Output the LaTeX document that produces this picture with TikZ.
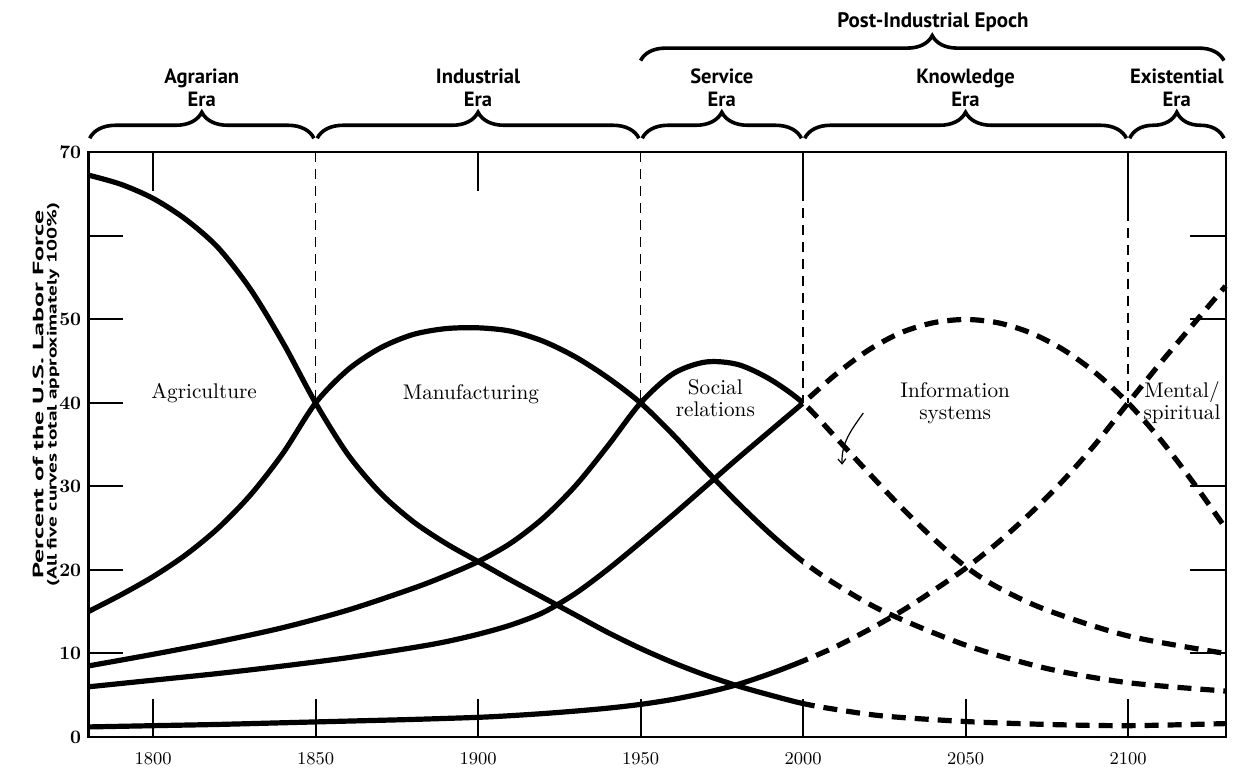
\documentclass[tikz,border=0pt]{standalone}
\usepackage{fontspec}
\usepackage{graphicx}
\newfontfamily\erafont{PT Sans}
\usetikzlibrary{decorations.pathreplacing,arrows.meta}

% one trend curve: solid up to 2000, dashed after
\newcommand\trendcurve[1]{%
	\begin{scope}
		\clip (1775,-3) rectangle (2000,72);
		\draw[curve] plot[smooth] coordinates {#1};
	\end{scope}
	\begin{scope}
		\clip (2000,-3) rectangle (2135,72);
		\draw[future] plot[smooth] coordinates {#1};
	\end{scope}}

\begin{document}
\begin{tikzpicture}[x=1.625pt, y=4.175pt,
	frame/.style={line width=1pt},
	curve/.style={line width=2.6pt},
	future/.style={line width=2.6pt, dash pattern=on 7pt off 4.5pt},
	eraline/.style={line width=0.9pt, dash pattern=on 5pt off 3.5pt},
	erabrace/.style={decorate, decoration={brace, amplitude=13pt}, line width=1.8pt},
	eralabel/.style={font=\erafont\bfseries\fontsize{10.3}{11.5}\selectfont, align=center},
	curvelabel/.style={font=\fontsize{10.6}{11}\selectfont, align=center},
	yearlabel/.style={font=\fontsize{9}{9}\selectfont},
	pctlabel/.style={font=\bfseries\fontsize{9.5}{10}\selectfont, anchor=east, inner sep=1pt}]
	\useasboundingbox (1752.92,-5.15) rectangle (2135.08,88.26);
	
	% frame and ticks
	\draw[frame] (1780,0) rectangle (2130,70);
	\draw[line width=1.5pt] (1780,0) -- (1780,70);
	\foreach \p in {10,20,...,60}
		\draw[frame] (1780,\p) -- (1790.8,\p);
	\foreach \p in {10,20,30,50,60}
		\draw[frame] (2130,\p) -- (2119.2,\p);
	\foreach \yr in {1800,1850,...,2100}
		\draw[frame] (\yr,0) -- (\yr,4.5);
	\foreach \yr in {1800,1900}
		\draw[frame] (\yr,70) -- (\yr,65.4);
	
	% era boundaries
	\draw[eraline] (1850,70) -- (1850,40);
	\draw[eraline] (1950,70) -- (1950,40);
	\draw[frame] (2000,70) -- (2000,65.4);
	\draw[eraline] (2000,65.4) -- (2000,40);
	\draw[frame] (2100,70) -- (2100,63);
	\draw[eraline] (2100,63) -- (2100,40);
	
	% labels of the axes
	\foreach \yr in {1800,1850,...,2100}
		\node[yearlabel] (yr\yr) at (\yr,-2.6) {\yr};
	\foreach \p in {0,10,20,30,40,50,70}
		\node[pctlabel] (pc\p) at (1778.6,\p) {\p};
	\node[rotate=90, inner sep=0pt, font=\erafont\bfseries\fontsize{7.5}{9}\selectfont] (ytitle) at (1764.6,41)
		{\scalebox{1.87}[1]{Percent of the U.S. Labor Force}};
	\node[rotate=90, inner sep=0pt, font=\erafont\bfseries\fontsize{6.8}{8}\selectfont] (ynote) at (1769.3,41)
		{\scalebox{1.56}[1]{(All five curves total approximately 100\%)}};
	
	% eras
	\foreach \a/\b/\n/\t in {1780/1850/agrarian/Agrarian\\Era, 1850/1950/industrial/Industrial\\Era,
		1950/2000/service/Service\\Era, 2000/2100/knowledge/Knowledge\\Era, 2100/2130/existential/Existential\\Era}{
		\draw[erabrace] ({\a+0.5},71.7) -- ({\b-0.5},71.7);
		\node[eralabel] (\n) at ({(\a+\b)/2},77.7) {\t};
	}
	\draw[erabrace, decoration={amplitude=12.5pt}] (1950,81) -- (2129.5,81);
	\node[eralabel, font=\erafont\bfseries\fontsize{10.5}{11.5}\selectfont] (postind) at (2040,85.6) {Post-Industrial Epoch};
	
	% the five curves
	\trendcurve{(1780,67.3) (1790,66.2) (1800,64.5) (1810,62) (1820,58.6) (1830,53.6) (1840,47.2)
		(1850,40) (1860,33.8) (1870,29.2) (1880,25.8) (1890,23.2) (1900,21) (1910,18.8) (1920,16.7)
		(1930,14.6) (1940,12.5) (1950,10.6) (1960,8.9) (1970,7.4) (1980,6.1) (1990,5) (2000,4)
		(2010,3.3) (2025,2.5) (2050,1.85) (2075,1.5) (2100,1.35) (2130,1.6)}
	\trendcurve{(1780,15) (1790,17) (1800,19.2) (1810,21.8) (1820,25) (1830,29) (1840,34)
		(1850,40) (1860,44) (1870,46.6) (1880,48.2) (1890,48.9) (1900,49) (1910,48.6) (1920,47.4)
		(1930,45.5) (1940,43) (1950,40) (1960,36.2) (1970,32) (1980,28) (1990,24.3) (2000,21)
		(2010,18.3) (2025,15) (2050,11) (2075,8.2) (2100,6.5) (2130,5.5)}
	\trendcurve{(1780,8.5) (1800,9.9) (1820,11.4) (1840,13.1) (1860,15.2) (1880,17.8) (1890,19.3)
		(1900,21) (1910,23.2) (1920,26.2) (1930,30.1) (1940,34.9) (1950,40) (1960,43.5) (1970,44.9)
		(1980,44.6) (1990,42.8) (2000,40) (2010,35.9) (2020,31.7) (2030,27.6) (2040,23.8) (2050,20.4)
		(2060,17.9) (2075,15.2) (2100,12.1) (2130,10)}
	\trendcurve{(1780,6) (1800,6.8) (1820,7.6) (1840,8.5) (1860,9.5) (1880,10.7) (1890,11.4)
		(1900,12.3) (1910,13.4) (1920,14.9) (1930,17.2) (1940,20.1) (1950,23.3) (1960,26.6) (1970,30)
		(1980,33.4) (1990,36.7) (2000,40) (2010,43.4) (2020,46.3) (2030,48.4) (2040,49.6) (2050,50)
		(2060,49.6) (2070,48.4) (2080,46.4) (2090,43.6) (2100,40) (2110,35.6) (2120,30.5) (2130,25)}
	\trendcurve{(1780,1.2) (1800,1.35) (1820,1.5) (1840,1.7) (1860,1.9) (1880,2.1) (1900,2.35)
		(1910,2.55) (1920,2.8) (1930,3.1) (1940,3.45) (1950,3.9) (1960,4.5) (1970,5.3) (1980,6.3)
		(1990,7.6) (2000,9.1) (2010,10.8) (2020,12.8) (2030,15) (2040,17.5) (2050,20.2) (2060,23.3)
		(2070,26.8) (2080,30.7) (2090,35.1) (2100,40) (2110,44.8) (2120,49.4) (2130,54)}
	
	% curve names
	\node[curvelabel] (agri) at (1815.7,41.2) {Agriculture};
	\node[curvelabel] (manu) at (1897.8,41) {Manufacturing};
	\node[curvelabel] (social) at (1973,40.6) {Social\\relations};
	\node[curvelabel] (info) at (2046.8,40) {Information\\systems};
	\node[curvelabel] (mental) at (2116.6,40) {Mental/\\spiritual};
	\coordinate (infotip) at (2012,32.6);
	\draw[line width=0.6pt, -{Straight Barb[length=2.5pt,width=4pt]}]
		([xshift=-15pt,yshift=-5pt]info.west) to[out=235,in=92] (infotip);
\end{tikzpicture}
\end{document}
